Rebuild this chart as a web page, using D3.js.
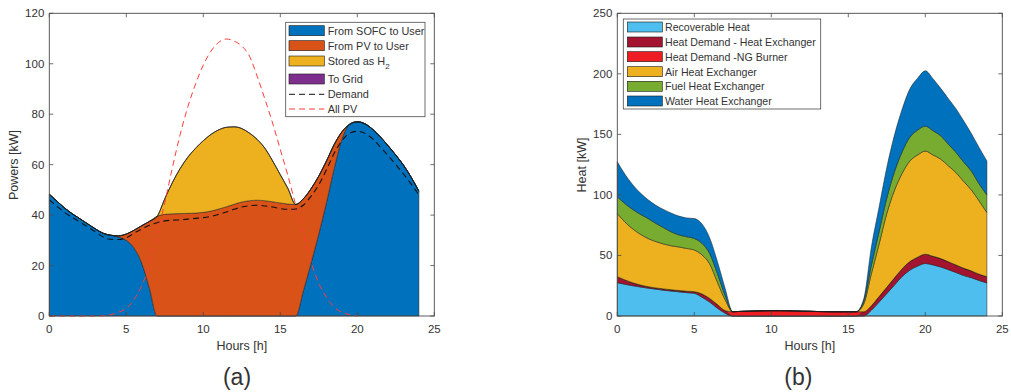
<!DOCTYPE html>
<html><head><meta charset="utf-8">
<script src="https://cdn.jsdelivr.net/npm/d3@7/dist/d3.min.js"></script>
<style>
body{margin:0;background:#fff}
svg{display:block}
text{font-family:"Liberation Sans",Arial,sans-serif;fill:#333}
</style>
</head><body>
<svg id="chart" width="1011" height="392"></svg>
<script>
// ---------- shared x categories (hours) ----------
const hours = [0,0.5,1,1.5,2,2.5,3,3.5,4,4.5,5,5.5,6,6.5,7,7.5,8,8.5,9,9.5,10,10.5,11,11.5,12,12.5,13,13.5,14,14.5,15,15.5,16,16.5,17,17.5,18,18.5,19,19.5,20,20.5,21,21.5,22,22.5,23,23.5,24];

// ---------- panel (a): powers [kW] ----------
const sofcToUser = [48.3,45.5,42.8,40.5,38.5,36.5,34.5,32.8,32,31.3,30,27,21,11,0, 0,0,0,0,0,0,0,0,0,0,0,0,0,0,0,0,0, 0,10,21,32.5,45,58.5,70,76,77,76.2,74,71,67.5,63.8,59.8,55,49.5];
const pvToUser   = [0,0,0,0,0,0,0,0,0,0.5,2.5,7,14.8,26.5,39.5, 40.3,40.5,40.6,40.7,40.8,41.1,41.6,42.4,43.3,44.3,45.2,45.7,45.9,45.7,45.3,44.8,44.4, 44.2,36.5,29.5,23,16.5,9.5,3,0,0,0,0,0,0,0,0,0,0];
const storedH2   = [0,0,0,0,0,0,0,0,0,0,0,0,0,0,0, 6.2,12.5,17.9,22.3,25.7,28.4,30.4,31.4,31.5,30.7,29.1,26.8,24.1,20.8,16.2,11.2,6.1, 0,0,0,0,0,0,0,0,0,0,0,0,0,0,0,0,0];
const toGrid     = [0,0,0,0,0,0,0,0,0,0,0,0,0,0,0, 0,0,0,0,0,0,0,0,0,0,0,0,0,0,0,0,0, 0,0,0,0,0,0,0,0,0,0,0,0,0,0,0,0,0];
const demand     = [46,43.5,41,39,37.2,35.3,33.3,31.3,30.4,30.3,31,32.8,34.5,36,37,37.7,38,38.1,38.4,38.7,39,39.5,40.3,41.2,42.3,43.2,43.7,43.9,43.6,43.2,42.6,42.3,42.4,44,47.5,52,58,64.5,69.5,72.5,73.2,72.4,70.2,67,63.6,60,56.3,52.3,48];
const allPV      = [0,0,0,0,0,0,0,0.1,0.5,1.5,3,6.5,12,20,32,45,59,72,83,92,99.5,105,108.5,109.8,109,107,103,95,86,76.5,66,55.5,44,33,21.5,13,7.5,3.5,1.5,0.5,0,null,null,null,null,null,null,null,null];
const legendA    = ["From SOFC to User","From PV to User","Stored as H2","To Grid","Demand","All PV"];
const xTicksA    = [0,5,10,15,20,25];
const yTicksA    = [0,20,40,60,80,100,120];

// ---------- panel (b): heat [kW] ----------
const recoverableHeat = [27.5,26.2,25,24,23,22.2,21.3,20.6,20,19.3,18.7,15.5,11.5,6.5,2.3, 0,0,0,0,0,0,0,0,0,0,0,0,0,0,0,0,0, 0,4.8,11.5,18.5,25.6,32.6,37.9,41.2,43.4,42.2,40.5,38.3,35.9,33.4,31.6,29.3,27.3];
const hdHeatExchanger = [5,3.6,2.4,1.6,1.2,1,1.1,1.1,1,1.2,1.4,2.7,3,3,2.2, 0,0,0,0,0,0,0,0,0,0,0,0,0,0,0,0,0, 3.5,3.7,4.6,5.2,5.9,6.5,7.1,7.4,7.6,7.1,6.9,6.5,6.2,6,5.6,5.2,5.2];
const hdNGBurner      = [0,0,0,0,0,0,0,0,0,0,0,0,0,0,0, 3.5,3.8,4,4.2,4.3,4.4,4.4,4.3,4.2,4,3.9,3.7,3.6,3.5,3.5,3.5,3.5, 0,0,0,0,0,0,0,0,0,0,0,0,0,0,0,0,0];
const airHX           = [52.2,47.7,44.6,41.9,39.8,38.3,37.1,36.3,36,35.3,34.4,32.3,28.5,18.5,9, 0,0,0,0,0,0,0,0,0,0,0,0,0,0,0,0,0, 6.5,26.5,43.3,61,72.4,78.8,83,84.4,85.2,83.7,82.2,79.2,76.2,71.6,66.8,60.5,53];
const fuelHX          = [13.8,15.3,16,16.5,16.5,15,13.5,11.5,10,9.7,9.5,9.5,8.5,7,3.5, 0,0,0,0,0,0,0,0,0,0,0,0,0,0,0,0,0, 2,7,10.2,12.7,15.3,17.8,19.7,20.5,20.6,20,19.2,17.8,16.7,16,15.5,14,14.5];
const waterHX         = [28.9,24.2,20.5,17.5,15.5,15,15,15.5,15.5,15.5,16.5,16,13,10,6, 0,0,0,0,0,0,0,0,0,0,0,0,0,0,0,0,0, 2,15,20.4,25.3,30.4,35.3,39.9,42.9,45.7,43,39.2,37.7,36,34,31,30,28];
const legendB    = ["Recoverable Heat","Heat Demand - Heat Exchanger","Heat Demand -NG Burner","Air Heat Exchanger","Fuel Heat Exchanger","Water Heat Exchanger"];
const xTicksB    = [0,5,10,15,20,25];
const yTicksB    = [0,50,100,150,200,250];

const svg = d3.select("#chart");
const AX = "#4a4a4a";

function drawAxes(g, x, y, xTicks, yTicks) {
  const [xa, xb] = x.range(), [ya, yb] = y.range();
  const tl = 4;
  xTicks.forEach(t => {
    g.append("line").attr("x1", x(t)).attr("x2", x(t)).attr("y1", ya).attr("y2", ya - tl).attr("stroke", AX).attr("stroke-width", 0.8);
    g.append("line").attr("x1", x(t)).attr("x2", x(t)).attr("y1", yb).attr("y2", yb + tl).attr("stroke", AX).attr("stroke-width", 0.8);
    g.append("text").attr("x", x(t)).attr("y", ya + 17).attr("text-anchor", "middle").attr("font-size", 11.5).text(t);
  });
  yTicks.forEach(t => {
    g.append("line").attr("x1", xa).attr("x2", xa + tl).attr("y1", y(t)).attr("y2", y(t)).attr("stroke", AX).attr("stroke-width", 0.8);
    g.append("line").attr("x1", xb).attr("x2", xb - tl).attr("y1", y(t)).attr("y2", y(t)).attr("stroke", AX).attr("stroke-width", 0.8);
    g.append("text").attr("x", xa - 5).attr("y", y(t) + 4).attr("text-anchor", "end").attr("font-size", 11.5).text(t);
  });
  g.append("rect").attr("x", xa).attr("y", yb).attr("width", xb - xa).attr("height", ya - yb)
    .attr("fill", "none").attr("stroke", AX).attr("stroke-width", 0.9);
}

function drawStack(g, x, y, keys, rows, colors) {
  const series = d3.stack().keys(keys)(rows);
  const area = d3.area().x(d => x(d.data.h)).y0(d => y(d[0])).y1(d => y(d[1])).curve(d3.curveMonotoneX);
  g.selectAll(null).data(series).join("path")
    .attr("d", area).attr("fill", (d, i) => colors[i])
    .attr("stroke", "#1a1a1a").attr("stroke-width", 0.5).attr("stroke-linejoin", "round");
}

// ================= Panel (a) =================
{
  const g = svg.append("g");
  const x = d3.scaleLinear().domain([0, 25]).range([49.3, 434.3]);
  const y = d3.scaleLinear().domain([0, 120]).range([316, 13.3]);
  const keys = ["sofc", "pv", "stored", "grid"];
  const colors = ["#0072BD", "#D95319", "#EDB120", "#7E2F8E"];
  const rows = hours.map((h, i) => ({h, sofc: sofcToUser[i], pv: pvToUser[i], stored: storedH2[i], grid: toGrid[i]}));
  drawStack(g, x, y, keys, rows, colors);

  const line = d3.line().defined(d => d[1] !== null).x(d => x(d[0])).y(d => y(d[1])).curve(d3.curveMonotoneX);
  g.append("path").attr("d", line(hours.map((h, i) => [h, allPV[i]])))
    .attr("fill", "none").attr("stroke", "#FF3B3B").attr("stroke-width", 1).attr("stroke-dasharray", "6,4");
  g.append("path").attr("d", line(hours.map((h, i) => [h, demand[i]])))
    .attr("fill", "none").attr("stroke", "#111").attr("stroke-width", 1.1).attr("stroke-dasharray", "6,4");

  drawAxes(g, x, y, xTicksA, yTicksA);

  g.append("text").attr("x", 241.8).attr("y", 350).attr("text-anchor", "middle").attr("font-size", 12.5).text("Hours [h]");
  g.append("text").attr("transform", "translate(18,165) rotate(-90)").attr("text-anchor", "middle").attr("font-size", 12.5).text("Powers [kW]");
  g.append("text").attr("x", 237).attr("y", 385).attr("text-anchor", "middle").attr("font-size", 23).text("(a)");

  const L = g.append("g");
  L.append("rect").attr("x", 285.7).attr("y", 22.3).attr("width", 139.3).attr("height", 94.4)
    .attr("fill", "#fff").attr("stroke", AX).attr("stroke-width", 0.8);
  const rowsY = [30.7, 45.7, 61, 79, 94.3, 109];
  legendA.forEach((name, i) => {
    const cy = rowsY[i];
    if (i < 4) {
      L.append("rect").attr("x", 289).attr("y", cy - 5).attr("width", 35.3).attr("height", 10)
        .attr("fill", colors[i]).attr("stroke", "#1a1a1a").attr("stroke-width", 0.6);
    } else {
      L.append("line").attr("x1", 289).attr("x2", 324.3).attr("y1", cy).attr("y2", cy)
        .attr("stroke", i === 4 ? "#111" : "#FF3B3B").attr("stroke-width", 1).attr("stroke-dasharray", "6,4");
    }
    const t = L.append("text").attr("x", 327.7).attr("y", cy + 3.9).attr("font-size", 10.9);
    if (name === "Stored as H2") {
      t.append("tspan").text("Stored as H");
      t.append("tspan").attr("dy", 4).attr("font-size", 8).text("2");
    } else t.text(name);
  });
}

// ================= Panel (b) =================
{
  const g = svg.append("g");
  const x = d3.scaleLinear().domain([0, 25]).range([617.3, 1002.3]);
  const y = d3.scaleLinear().domain([0, 250]).range([316, 13.3]);
  const keys = ["rec", "hx", "ng", "air", "fuel", "water"];
  const colors = ["#4DBEEE", "#A2142F", "#EE1D23", "#EDB120", "#77AC30", "#0072BD"];
  const rows = hours.map((h, i) => ({h, rec: recoverableHeat[i], hx: hdHeatExchanger[i], ng: hdNGBurner[i], air: airHX[i], fuel: fuelHX[i], water: waterHX[i]}));
  drawStack(g, x, y, keys, rows, colors);

  drawAxes(g, x, y, xTicksB, yTicksB);

  g.append("text").attr("x", 809.8).attr("y", 350).attr("text-anchor", "middle").attr("font-size", 12.5).text("Hours [h]");
  g.append("text").attr("transform", "translate(586,165) rotate(-90)").attr("text-anchor", "middle").attr("font-size", 12.5).text("Heat [kW]");
  g.append("text").attr("x", 798.3).attr("y", 385).attr("text-anchor", "middle").attr("font-size", 23).text("(b)");

  const L = g.append("g");
  L.append("rect").attr("x", 623.3).attr("y", 19).attr("width", 197.4).attr("height", 90)
    .attr("fill", "#fff").attr("stroke", AX).attr("stroke-width", 0.8);
  const rowsY = [27, 42, 56.7, 71.7, 86.3, 101];
  legendB.forEach((name, i) => {
    const cy = rowsY[i];
    L.append("rect").attr("x", 627.3).attr("y", cy - 5).attr("width", 35).attr("height", 10)
      .attr("fill", colors[i]).attr("stroke", "#1a1a1a").attr("stroke-width", 0.6);
    L.append("text").attr("x", 665).attr("y", cy + 3.8).attr("font-size", 10.6).text(name);
  });
}
</script>
</body></html>
